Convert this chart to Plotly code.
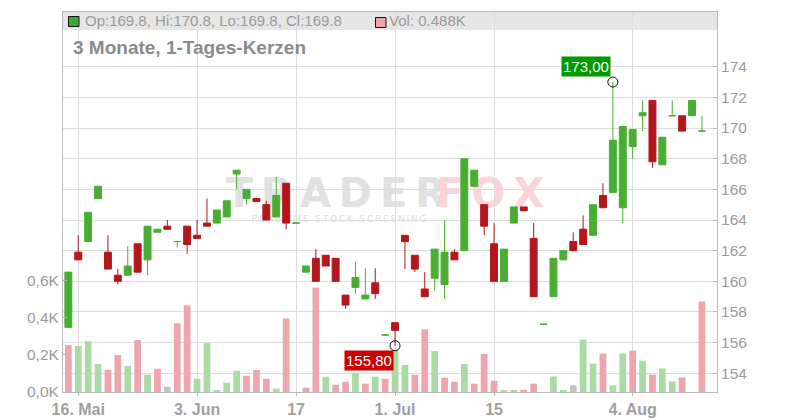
import plotly.graph_objects as go
import pandas as pd

# ---------------- data ----------------
dates = pd.bdate_range("2025-05-15", "2025-08-13")

opens = [157.0, 161.9, 162.6, 165.4, 161.9, 160.4, 160.4, 162.45, 161.4, 163.2,
         163.6, 162.6, 163.6, 163.0, 163.8, 163.8, 164.2, 167.0, 165.4, 165.4,
         165.0, 164.2, 166.4, 163.8, 160.6, 161.5, 161.7, 161.5, 159.1, 159.6,
         158.85, 159.9, 156.5, 157.3, 163.0, 161.7, 159.5, 160.2, 159.8, 161.9,
         162.0, 166.2, 165.0, 162.45, 160.0, 163.8, 164.85, 162.8, 157.2, 159.0,
         161.4, 162.6, 163.4, 163.0, 165.6, 165.8, 164.8, 168.8, 170.8, 171.8,
         167.6, 170.8, 170.8, 170.8, 169.8]
highs = [160.6, 163.0, 164.5, 166.2, 163.0, 160.8, 162.3, 162.45, 163.6, 163.4,
         164.0, 162.6, 163.6, 164.0, 165.4, 164.65, 165.25, 167.25, 166.0, 165.4,
         165.25, 166.8, 166.4, 163.8, 161.0, 162.1, 161.7, 161.5, 159.1, 161.3,
         160.85, 160.85, 156.5, 157.3, 163.0, 161.7, 160.6, 162.1, 164.0, 162.1,
         168.0, 167.25, 165.0, 163.8, 162.1, 164.85, 164.85, 163.8, 157.2, 161.5,
         162.0, 163.2, 164.3, 165.0, 166.4, 173.0, 170.1, 169.9, 171.8, 171.8,
         169.4, 171.8, 170.8, 171.8, 170.8]
lows = [157.0, 161.4, 162.6, 165.4, 160.8, 159.8, 160.4, 160.6, 160.4, 163.2,
        163.4, 162.2, 161.8, 162.8, 163.6, 163.8, 164.2, 166.0, 165.0, 165.2,
        164.0, 164.2, 163.4, 163.8, 160.6, 160.0, 161.0, 160.0, 158.2, 159.2,
        158.85, 158.85, 156.5, 155.8, 160.8, 160.6, 159.0, 159.4, 158.85, 161.4,
        162.0, 166.2, 163.0, 160.0, 160.0, 163.8, 164.6, 159.0, 157.2, 159.0,
        161.4, 162.0, 162.4, 163.0, 164.8, 165.8, 163.8, 168.0, 169.8, 167.4,
        167.6, 170.8, 169.8, 170.8, 169.8]
closes = [160.6, 161.4, 164.5, 166.2, 160.8, 160.0, 161.0, 160.6, 163.6, 163.4,
          163.4, 162.6, 162.4, 162.8, 163.6, 164.65, 165.25, 167.25, 166.0, 165.2,
          164.0, 165.6, 163.8, 163.8, 161.0, 160.0, 161.0, 160.0, 158.45, 160.25,
          159.1, 159.2, 156.5, 156.8, 162.6, 160.8, 159.0, 162.1, 161.9, 161.4,
          168.0, 167.25, 163.6, 160.0, 162.1, 164.85, 164.6, 159.0, 157.2, 161.5,
          162.0, 162.0, 162.4, 165.0, 164.8, 169.2, 170.1, 169.9, 171.0, 167.8,
          169.4, 170.8, 169.8, 171.8, 169.8]
volumes_k = [0.253, 0.248, 0.274, 0.151, 0.119, 0.199, 0.141, 0.280, 0.093, 0.125,
             0.028, 0.370, 0.467, 0.071, 0.264, 0.007, 0.050, 0.114, 0.087, 0.119,
             0.071, 0.018, 0.397, 0.0, 0.023, 0.563, 0.082, 0.039, 0.055, 0.103,
             0.045, 0.082, 0.071, 0.226, 0.146, 0.093, 0.338, 0.221, 0.077, 0.055,
             0.151, 0.045, 0.205, 0.061, 0.007, 0.007, 0.012, 0.045, 0.0, 0.084,
             0.009, 0.036, 0.282, 0.153, 0.207, 0.036, 0.207, 0.223, 0.169, 0.094,
             0.127, 0.057, 0.078, 0.0, 0.488]

tick_dates = ["2025-05-16", "2025-06-03", "2025-06-17", "2025-07-01", "2025-07-15", "2025-08-04"]
tick_labels = ["16. Mai", "3. Jun", "17", "1. Jul", "15", "4. Aug"]
vol_ticks = [0.0, 0.2, 0.4, 0.6]
price_ticks = [154, 156, 158, 160, 162, 164, 166, 168, 170, 172, 174]

title_text = "3 Monate, 1-Tages-Kerzen"

# ---------------- style ----------------
FONT = "Liberation Sans, Arial, sans-serif"
GREEN = "#49ad33"
RED = "#b3161b"
VOL_UP = "#abdba5"
VOL_DOWN = "#eea5ae"
VOL_FLAT = "#c2c2c2"
GRID = "#dddddd"
AXLINE = "#b8b8b8"
TICKC = "#9a9a9a"

# page is offset by the browser's default 8px body margin
OFF = 8
W, H = 800 - OFF, 420 - OFF
# plot area in page pixels: x 63..717, y 12..392
PX0, PX1, PY0, PY1 = 63, 717, 12, 392
ML, MR, MT, MB = PX0 - OFF, 800 - PX1, PY0 - OFF, 420 - PY1
PW, PH = PX1 - PX0, PY1 - PY0


def px(x):
    return (x - PX0) / PW


def py(y):
    return (PY1 - y) / PH


idx = list(range(len(dates)))
date_str = [d.strftime("%Y-%m-%d") for d in dates]
tick_idx = [date_str.index(d) for d in tick_dates]

up = [c >= o for o, c in zip(opens, closes)]
down = [not u for u in up]


def sub(arr, mask):
    return [a if m else None for a, m in zip(arr, mask)]


vol_colors = []
for i, c in enumerate(closes):
    if i == 0 or c < closes[i - 1]:
        vol_colors.append(VOL_DOWN)
    elif c > closes[i - 1]:
        vol_colors.append(VOL_UP)
    else:
        vol_colors.append(VOL_FLAT)

fig = go.Figure()

# volume bars (left axis)
fig.add_trace(go.Bar(x=idx, y=volumes_k, marker=dict(color=vol_colors, line=dict(width=0)),
                     width=0.68, xaxis="x", yaxis="y", hoverinfo="skip", showlegend=False))

# candles (right axis)
for mask, col in ((up, GREEN), (down, RED)):
    fig.add_trace(go.Candlestick(
        x=idx, open=sub(opens, mask), high=sub(highs, mask), low=sub(lows, mask), close=sub(closes, mask),
        increasing=dict(line=dict(color=col, width=1), fillcolor=col),
        decreasing=dict(line=dict(color=col, width=1), fillcolor=col),
        whiskerwidth=0, xaxis="x", yaxis="y2", hoverinfo="skip", showlegend=False))

# extreme markers
i_max = max(idx, key=lambda i: highs[i])
i_min = min(idx, key=lambda i: lows[i])
fig.add_trace(go.Scatter(x=[i_max, i_min], y=[highs[i_max], lows[i_min]], mode="markers",
                         marker=dict(symbol="circle-open", size=10, color="#111111", line=dict(width=1)),
                         xaxis="x", yaxis="y2", hoverinfo="skip", showlegend=False))


def de(v):
    return f"{v:.2f}".replace(".", ",")


annotations = [
    dict(x=i_max, y=highs[i_max], xref="x", yref="y2", text=de(highs[i_max]), showarrow=False,
         xanchor="right", yanchor="bottom", xshift=-2, yshift=5, bgcolor="#009a00",
         font=dict(family=FONT, size=15, color="white"), borderpad=1),
    dict(x=i_min, y=lows[i_min], xref="x", yref="y2", text=de(lows[i_min]), showarrow=False,
         xanchor="right", yanchor="top", xshift=-1, yshift=-4, bgcolor="#cc0000",
         font=dict(family=FONT, size=15, color="white"), borderpad=1),
    dict(x=px(83), y=py(21), xref="paper", yref="paper", showarrow=False, xanchor="left", yanchor="middle",
         text=f"Op:{opens[-1]:.1f}, Hi:{highs[-1]:.1f}, Lo:{lows[-1]:.1f}, Cl:{closes[-1]:.1f}",
         font=dict(family=FONT, size=15, color="#9a9a9a")),
    dict(x=px(387), y=py(21), xref="paper", yref="paper", showarrow=False, xanchor="left", yanchor="middle",
         text=f"Vol: {volumes_k[-1]:.3f}K", font=dict(family=FONT, size=15, color="#9a9a9a")),
    dict(x=px(71), y=py(48), xref="paper", yref="paper", showarrow=False, xanchor="left", yanchor="middle",
         text=f"<b>{title_text}</b>", font=dict(family=FONT, size=19, color="#8a8a8a")),
]

shapes = [
    # header band
    dict(type="rect", xref="paper", yref="paper", x0=0, x1=1, y0=py(30), y1=1,
         fillcolor="#e6e6e6", line=dict(width=0), layer="below"),
    # legend squares
    dict(type="rect", xref="paper", yref="paper", x0=px(68.5), x1=px(79), y0=py(26.5), y1=py(16.5),
         fillcolor="#3aa934", line=dict(width=1, color="#111111"), layer="above"),
    dict(type="rect", xref="paper", yref="paper", x0=px(375.5), x1=px(386), y0=py(27.5), y1=py(17.5),
         fillcolor="#eea5ae", line=dict(width=1, color="#111111"), layer="above"),
    # watermark
    dict(type="rect", xref="paper", yref="paper", x0=px(236), x1=px(436), y0=py(206), y1=py(174),
         fillcolor="rgba(0,0,0,0)", line=dict(width=0), layer="below",
         label=dict(text="T\u2009R\u2009A\u2009D\u2009E\u2009R", textposition="middle center",
                    font=dict(family="DejaVu Sans", size=40, color="#e1e1e1", weight="bold"))),
    dict(type="rect", xref="paper", yref="paper", x0=px(434), x1=px(546), y0=py(206), y1=py(174),
         fillcolor="rgba(0,0,0,0)", line=dict(width=0), layer="below",
         label=dict(text="F\u2009O\u2009X", textposition="middle center",
                    font=dict(family="DejaVu Sans", size=40, color="#fbd4da", weight="bold"))),
    dict(type="rect", xref="paper", yref="paper", x0=px(248), x1=px(430), y0=py(225), y1=py(211),
         fillcolor="rgba(0,0,0,0)", line=dict(width=0), layer="below",
         label=dict(text="\u2009".join("REALTIME STOCK SCREENING"), textposition="middle center",
                    font=dict(family="DejaVu Sans", size=9, color="#dedede"))),
]

fig.update_layout(
    width=W, height=H, template="none",
    margin=dict(l=ML, r=MR, t=MT, b=MB, pad=0),
    paper_bgcolor="white", plot_bgcolor="white",
    showlegend=False, boxgap=0.3, boxgroupgap=0.0, bargap=0.3,
    font=dict(family=FONT, color=TICKC),
    xaxis=dict(type="linear", range=[-0.54, 65.52], tickmode="array", tickvals=tick_idx,
               ticktext=[f"<b>{t}</b>" for t in tick_labels], tickfont=dict(family=FONT, size=16, color="#a0a0a0"),
               showgrid=True, gridcolor=GRID, gridwidth=1, zeroline=False,
               ticks="outside", ticklen=3, tickcolor=AXLINE,
               showline=True, linecolor=AXLINE, linewidth=1, mirror=True,
               rangeslider=dict(visible=False), fixedrange=True),
    yaxis=dict(range=[0, 2.049], tickmode="array", tickvals=vol_ticks,
               ticktext=[f"{v:.1f}".replace(".", ",") + "K" for v in vol_ticks],
               tickfont=dict(family=FONT, size=15.5, color=TICKC), side="left",
               showgrid=False, zeroline=False, ticks="inside", ticklen=4, tickcolor=AXLINE,
               showline=True, linecolor=AXLINE, linewidth=1, fixedrange=True),
    yaxis2=dict(range=[152.78, 177.57], tickmode="array", tickvals=price_ticks,
                ticktext=[str(v) for v in price_ticks],
                tickfont=dict(family=FONT, size=15.5, color=TICKC), side="right", overlaying="y",
                showgrid=True, gridcolor=GRID, gridwidth=1, zeroline=False,
                ticks="inside", ticklen=4, tickcolor=AXLINE,
                showline=True, linecolor=AXLINE, linewidth=1, fixedrange=True),
    annotations=annotations,
    shapes=shapes,
)

fig.write_html("out.html")
